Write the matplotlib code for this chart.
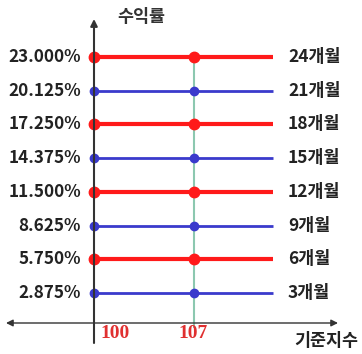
import matplotlib.pyplot as plt

plt.rcParams['font.family'] = ['Noto Sans CJK KR', 'DejaVu Sans']

# 수익률 levels and their periods
yields = [23.000, 20.125, 17.250, 14.375, 11.500, 8.625, 5.750, 2.875]
periods = ['24개월', '21개월', '18개월', '15개월', '12개월', '9개월', '6개월', '3개월']
line_colors = ['red', 'blue', 'red', 'blue', 'red', 'blue', 'red', 'blue']
x_ticks = [100, 107]
x_end = 112.5

fig = plt.figure(figsize=(3.62, 3.54), dpi=100)
ax = fig.add_axes([0, 0, 1, 1])
ax.axis('off')

# pixel mapping: 100 -> 94px, 107 -> 194px ; 23 -> 57px, 2.875 -> 293px
px_x = (194 - 94) / 7
px_y = (293 - 57) / (23 - 2.875)
ax.set_xlim(100 - 94 / px_x, 100 + (362 - 94) / px_x)
ax.set_ylim(2.875 - (354 - 293) / px_y, 23 + 57 / px_y)

def px2x(p):
    return 100 + (p - 94) / px_x

def px2y(p):
    return 23 - (p - 57) / px_y

y_axis = px2y(323)

# 107 guide line
ax.plot([107, 107], [px2y(327), 23], color='#8cc8b0', lw=1.5, zorder=1)

for yv, lab, c in zip(yields, periods, line_colors):
    red = c == 'red'
    col = '#ff1a1a' if red else '#3a3acc'
    ax.plot([100, x_end], [yv, yv], color=col, lw=3 if red else 2, zorder=2,
            solid_capstyle='butt')
    ax.plot([100, 107], [yv, yv], 'o', color=col, ms=7.5 if red else 6,
            zorder=3, lw=0)
    ax.text(px2x(81), yv, f'{yv:.3f}%', ha='right', va='center',
            fontsize=12.3, fontweight='bold', color='#222222')
    ax.text(px2x(288), yv, lab, ha='left', va='center',
            fontsize=12.5, fontweight='bold', color='#222222')

# axes with arrows
ax.annotate('', xy=(100, px2y(19)), xytext=(100, px2y(343)),
            arrowprops=dict(arrowstyle='-|>', color='#333333', lw=1.5,
                            mutation_scale=10, shrinkA=0, shrinkB=0), zorder=4)
ax.annotate('', xy=(px2x(6), y_axis), xytext=(px2x(338), y_axis),
            arrowprops=dict(arrowstyle='<|-|>', color='#333333', lw=1,
                            mutation_scale=10, shrinkA=0, shrinkB=0), zorder=4)

for xt, off in zip(x_ticks, [1.5, -0.1]):
    ax.text(xt + off, px2y(334), str(xt), ha='center', va='center',
            fontsize=14, fontweight='bold', color='#e03030',
            family='Liberation Serif')

ax.text(px2x(141), px2y(17), '수익률', ha='center', va='center',
        fontsize=12.5, fontweight='bold', color='#333333')
ax.text(px2x(326), px2y(341), '기준지수', ha='center', va='center',
        fontsize=12.5, fontweight='bold', color='#222222')

fig.savefig('out.png', dpi=100)
